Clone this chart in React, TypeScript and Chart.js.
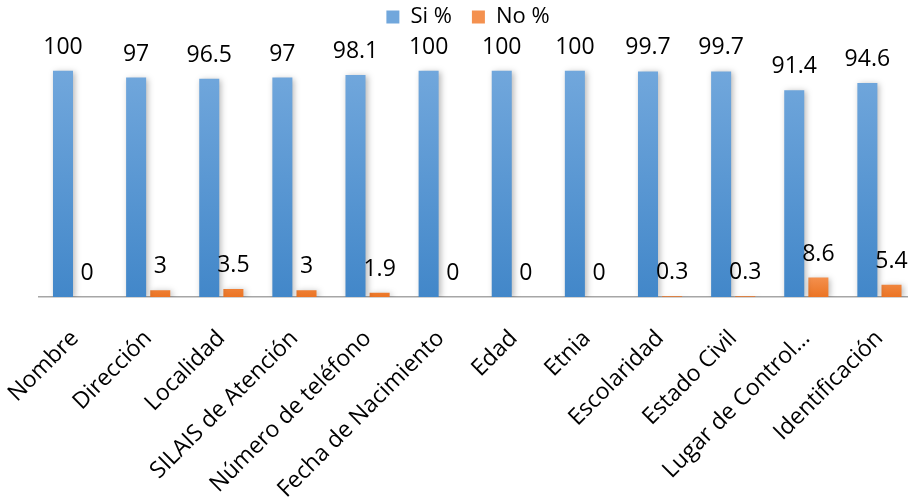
import React, { useEffect, useRef } from "react";
import { Chart, registerables } from "chart.js";

Chart.register(...registerables);

const categories = [
  "Nombre",
  "Dirección",
  "Localidad",
  "SILAIS de Atención",
  "Número de teléfono",
  "Fecha de Nacimiento",
  "Edad",
  "Etnia",
  "Escolaridad",
  "Estado Civil",
  "Lugar de Control…",
  "Identificación",
];
const siValues = [100, 97, 96.5, 97, 98.1, 100, 100, 100, 99.7, 99.7, 91.4, 94.6];
const noValues = [0, 3, 3.5, 3, 1.9, 0, 0, 0, 0.3, 0.3, 8.6, 5.4];
const seriesNames = ["Si %", "No %"];

const FONT = "'Open Sans', 'DejaVu Sans', sans-serif";

const shadowAndLabels = {
  id: "shadowAndLabels",
  beforeDatasetsDraw(chart: any) {
    const ctx = chart.ctx;
    ctx.save();
    ctx.shadowColor = "rgba(0,0,0,0.28)";
    ctx.shadowBlur = 6;
    ctx.shadowOffsetX = 2;
    ctx.shadowOffsetY = 1;
  },
  afterDatasetsDraw(chart: any) {
    const ctx = chart.ctx;
    ctx.restore();
    ctx.save();
    ctx.font = `23px ${FONT}`;
    ctx.fillStyle = "#000";
    ctx.textAlign = "center";
    ctx.textBaseline = "alphabetic";
    chart.data.datasets.forEach((ds: any, di: number) => {
      const meta = chart.getDatasetMeta(di);
      meta.data.forEach((el: any, i: number) => {
        ctx.fillText(String(ds.data[i]), el.x, el.y - 17);
      });
    });
    ctx.restore();
  },
};

export default function App() {
  const ref = useRef<HTMLCanvasElement | null>(null);
  useEffect(() => {
    if (!ref.current) return;
    const blue = (c: any) => {
      const chart = c.chart;
      const y = chart.scales && chart.scales.y;
      if (!chart.chartArea || !y) return "#5B9BD5";
      const g = chart.ctx.createLinearGradient(0, y.getPixelForValue(100), 0, y.getPixelForValue(0));
      g.addColorStop(0, "#71A7DC");
      g.addColorStop(1, "#4287C9");
      return g;
    };
    const orange = (c: any) => {
      const chart = c.chart;
      const y = chart.scales && chart.scales.y;
      if (!chart.chartArea || !y) return "#ED7D31";
      const g = chart.ctx.createLinearGradient(0, y.getPixelForValue(9), 0, y.getPixelForValue(0));
      g.addColorStop(0, "#F4914F");
      g.addColorStop(1, "#EB7424");
      return g;
    };
    const chart = new Chart(ref.current, {
      type: "bar",
      data: {
        labels: categories,
        datasets: [
          { label: seriesNames[0], data: siValues, backgroundColor: blue, borderWidth: 0 },
          { label: seriesNames[1], data: noValues, backgroundColor: orange, borderWidth: 0 },
        ],
      },
      options: {
        animation: false,
        responsive: true,
        maintainAspectRatio: false,
        datasets: {
          bar: { categoryPercentage: 0.66, barPercentage: 0.83 },
        },
        layout: { padding: { left: 20, right: 0, top: -14, bottom: 0 } },
        plugins: {
          legend: {
            position: "top",
            labels: {
              font: { family: FONT, size: 22 },
              color: "#000",
              boxWidth: 13,
              boxHeight: 13,
              padding: 20,
            },
          },
          tooltip: { enabled: false },
        },
        scales: {
          x: {
            grid: { display: false, drawTicks: false },
            border: { display: true, color: "#A6A6A6", width: 1.5 },
            ticks: {
              font: { family: FONT, size: 23 },
              color: "#000",
              minRotation: 45,
              maxRotation: 45,
              padding: 28,
              autoSkip: false,
            },
            afterFit: (s: any) => {
              s.height = 204;
              s.paddingLeft = 38.5;
              s.paddingRight = 0;
            },
          },
          y: {
            display: false,
            min: 0,
            max: 114.5,
          },
        },
      },
      plugins: [shadowAndLabels],
    });
    return () => chart.destroy();
  }, []);
  return (
    <div style={{ position: "absolute", left: 0, top: 0, width: 908, height: 501, overflow: "hidden", background: "#fff" }}>
      <div style={{ position: "relative", width: 916, height: 501 }}>
        <canvas ref={ref} />
      </div>
    </div>
  );
}
